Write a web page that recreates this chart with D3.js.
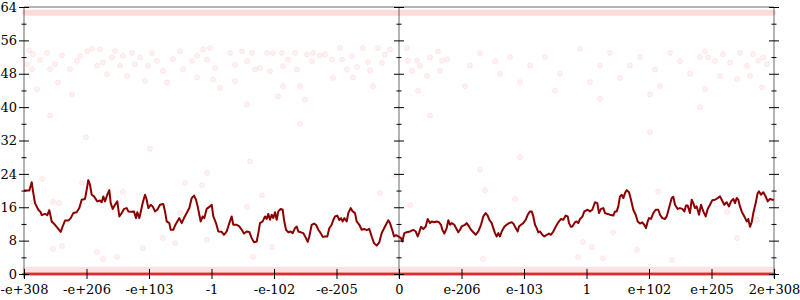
<!DOCTYPE html>
<html>
<head>
<meta charset="utf-8">
<script src="https://cdn.jsdelivr.net/npm/d3@7"></script>
<style>
  html, body { margin: 0; padding: 0; background: #fff; }
  svg text { font-family: "DejaVu Serif", serif; font-size: 13px; fill: #000; }
</style>
</head>
<body>
<svg id="chart" width="800" height="300"></svg>
<script>
// x runs over the sorted float64 bit patterns, tick index * 10
const xTickValues = [0, 10, 20, 30, 40, 50, 60, 70, 80, 90, 100, 110, 120];
const xTickLabels = ['-e+308', '-e+206', '-e+103', '-1', '-e-102', '-e-205', '0',
                     'e-206', 'e-103', '1', 'e+102', 'e+205', '2e+308'];
const yMajorTicks = [0, 8, 16, 24, 32, 40, 48, 56, 64];
const yMinorTicks = [4, 12, 20, 28, 36, 44, 52, 60];
const frameX = [0, 60, 120];

// dense rows of samples (level, relative count)
const bandLevels = [62.6, 1, 0];
const bandCounts = [160, 120, 800];

// cloud of samples around 44..54
const cloudPoints = [
  [0.8, 53.6], [1.44, 52.7], [0.48, 50.3], [1.28, 49.1], [2.56, 51.3], [3.68, 53], [4.16, 49.1],
  [4.96, 50.3], [5.44, 45.9], [6.08, 52.4], [7.36, 49.1], [8.48, 51.1], [8.96, 52.3], [10.08, 53.4],
  [10.88, 54], [12.16, 53.8], [11.68, 49.9], [12.64, 50.7], [13.28, 47.9], [14.08, 51.9], [14.56, 53.4],
  [15.36, 49.9], [15.84, 52.3], [16.48, 47.5], [17.28, 53], [17.76, 50.3], [18.56, 51.9], [19.36, 46.3],
  [19.84, 49.9], [20.48, 53], [21.28, 51.1], [22.24, 48.7], [22.88, 45.9], [23.84, 51.5], [24.96, 53.4],
  [25.44, 49.1], [26.88, 51.1], [27.68, 52.3], [27.68, 47.1], [7.68, 43.1], [2.08, 44.3],
  [28.64, 53.8], [29.76, 54.2], [29.28, 51.4], [30.56, 49.4], [30.24, 46.6], [31.36, 44.6], [32.96, 53],
  [33.76, 50.1], [33.76, 46.2], [34.88, 53.4], [35.68, 51], [36.48, 53], [36.96, 49], [37.76, 49.4],
  [38.88, 53], [39.36, 48.6], [39.84, 53], [40.64, 42.6], [41.28, 53], [41.44, 49.8], [41.44, 45],
  [42.24, 51.4], [43.36, 53], [43.68, 49], [44.16, 45], [45.28, 52.6], [46.08, 51], [46.24, 53],
  [47.36, 52.4], [48.16, 52.6], [49.28, 51.4], [49.44, 47], [50.56, 54.2], [50.88, 51.4], [51.68, 49],
  [52.48, 52.2], [53.28, 49.6], [54.24, 54.2], [55.04, 50.8], [55.36, 48.8], [55.84, 45], [56.64, 54.2],
  [57.28, 50.6], [57.76, 52.6], [35.68, 40.6], [44.96, 41.8], [52.64, 47.1],
  [58.56, 53.8], [61.28, 54.2], [61.44, 51.1], [62.88, 51.1], [63.36, 49.9], [64.96, 51.9], [66.24, 53.4],
  [66.88, 51.1], [67.68, 51.5], [62.08, 48.7], [64.48, 47.5], [66.56, 48.7], [63.04, 43.9],
  [71.36, 50], [76.16, 48], [79.36, 46], [83.36, 52], [85.76, 48], [88.96, 54], [92.16, 50], [95.36, 47],
  [98.56, 52], [100.96, 49], [103.36, 53], [106.56, 48], [72.96, 53], [77.76, 52], [80.96, 50],
  [90.56, 46], [93.76, 53], [96.96, 50], [101.76, 45], [104.96, 51], [108.16, 52], [70.56, 45],
  [84.96, 44], [100.16, 43], [75.36, 51],
  [108.96, 53.4], [109.44, 51.9], [110.56, 51.1], [111.84, 52.7], [112.96, 50.7], [114.56, 53],
  [115.68, 49.9], [116.64, 52.7], [117.44, 51.1], [118.24, 51.9], [118.88, 50.3], [111.36, 47.5],
  [114.08, 46.7], [116.16, 47.5], [118.08, 44.7], [108.96, 44.3]
];

// scattered samples elsewhere
const strayPoints = [
  [2.88, 22.8], [1.44, 17.3], [4.64, 17.3], [5.6, 17], [4.64, 6], [6.08, 6.7], [11.68, 5.3],
  [14.88, 4.1], [12.64, 3.6], [9.28, 21.8], [15.84, 19.7], [22.24, 8.6], [24.16, 7.4], [24.96, 14.6],
  [19.04, 6.2], [25.76, 21.8], [29.28, 24.2], [38.08, 18.9], [28.48, 21.3], [35.68, 16.1], [29.28, 8.2],
  [39.68, 6.5], [36.64, 4.1], [56.96, 19.4], [59.36, 23.7], [61.76, 16.5], [72.96, 25], [78.56, 18],
  [73.76, 20.1], [89.44, 7.7], [90.88, 6.5], [73.44, 3.6], [88.64, 4.1], [101.44, 19.7], [94.24, 10],
  [98.08, 5.8], [103.68, 3.4], [114.08, 8.6], [117.28, 13], [92.64, 3.8], [112.48, 14.9],
  [9.92, 32.8], [20.16, 30], [44.16, 36], [64.96, 38], [79.36, 28], [100.16, 34], [108.16, 40],
  [36.16, 27], [4.16, 38], [92.16, 42]
];

// running mean
const meanLine = [
  [0, 20], [0.85, 20], [1.23, 22], [1.49, 19.4], [1.76, 17], [2.29, 15.4], [2.67, 14.8], [2.83, 14.1],
  [3.36, 14.4], [3.73, 14.1], [4.05, 15.3], [4.27, 13.8], [4.43, 12.6], [4.96, 11.8], [5.49, 10.8],
  [5.87, 10.1], [6.29, 11.8], [6.56, 12.8], [7.09, 12.8], [7.47, 13.4], [7.89, 14.6], [8.43, 14.8],
  [8.85, 15.8], [9.23, 17.8], [9.76, 18], [10.03, 20.2], [10.29, 22.5], [10.56, 21.4], [10.83, 19],
  [11.2, 18.6], [11.73, 17.4], [12.16, 17.6], [12.43, 17.2], [12.69, 18.6], [12.96, 17.4], [13.33, 19],
  [13.65, 20.1], [13.87, 17], [14.19, 15.6], [14.56, 16.6], [14.93, 17.4], [15.25, 13.8], [15.63, 14.6],
  [16.0, 15.6], [16.43, 15.8], [16.69, 15], [17.23, 14.9], [17.6, 15], [17.92, 13.4], [18.13, 14.8],
  [18.45, 13.4], [18.67, 14.8], [18.99, 17], [19.36, 19], [19.63, 17.8], [19.89, 15.8], [20.27, 16.6],
  [20.59, 16.2], [20.96, 15], [21.33, 15.4], [21.76, 16.6], [22.29, 16.8], [22.56, 15], [22.83, 12.6],
  [23.25, 12.2], [23.47, 10.6], [23.89, 10.6], [24.16, 11.6], [24.53, 12.6], [24.85, 13.4], [25.23, 12.2],
  [25.6, 13.4], [26.03, 14.6], [26.45, 15.8], [26.83, 18.2], [27.2, 18.8], [27.52, 17.8], [27.79, 16.2],
  [28.05, 14.2], [28.27, 12.6], [28.59, 13.8], [28.85, 13.4], [29.23, 15.6], [29.76, 16.2],
  [30.03, 16.6], [30.29, 13.8], [30.72, 12.2], [31.09, 10.2], [31.63, 10.1], [32.0, 9.4], [32.43, 10.2],
  [32.85, 12.2], [33.23, 13.8], [33.49, 11.8], [34.03, 11.8], [34.45, 11.4], [34.83, 10.6], [35.2, 9.7],
  [35.63, 10.2], [36.05, 10.1], [36.43, 8.6], [36.8, 7.6], [37.23, 7.8], [37.49, 9.8], [37.76, 12.2],
  [38.19, 12.6], [38.56, 13.8], [38.83, 13.2], [39.09, 14.4], [39.36, 13], [39.63, 14.2], [39.89, 13.4],
  [40.16, 14.8], [40.43, 13], [40.69, 15], [41.07, 15.6], [41.39, 15.4], [41.6, 13], [41.92, 10.6],
  [42.29, 10], [42.67, 10.2], [42.99, 9.8], [43.36, 11], [43.63, 11.4], [43.89, 10.2], [44.27, 10],
  [44.69, 9.8], [45.12, 8.6], [45.39, 7.7], [45.65, 9], [46.03, 11.8], [46.4, 12.1], [46.72, 11.8],
  [47.09, 10.6], [47.47, 9.8], [47.79, 8.9], [48.16, 9], [48.53, 9], [48.85, 11], [49.23, 11.8],
  [49.49, 13], [49.76, 13.8], [50.13, 14], [50.45, 12.9], [50.72, 13.4], [50.99, 12.6], [51.25, 13.4],
  [51.63, 12.6], [51.89, 14.6], [52.27, 15.8], [52.59, 15], [52.96, 14.6], [53.23, 12.6], [53.65, 11.8],
  [54.03, 10.6], [54.4, 10.8], [54.83, 10.5], [55.25, 10.8], [55.63, 9], [56.0, 7.4], [56.43, 6.8],
  [56.85, 7.6], [57.23, 9.8], [57.76, 11.4], [58.29, 12.9], [58.56, 12.2], [58.99, 10.2], [59.2, 9],
  [59.52, 9.3], [59.89, 9],
  [60.32, 8.6], [60.53, 7.8], [60.85, 9.8], [61.23, 10], [61.76, 10.2], [62.29, 10.6], [62.67, 10.2],
  [62.99, 9], [63.2, 9.8], [63.52, 11.3], [63.89, 10.8], [64.27, 11.4], [64.59, 13.2], [64.96, 12.2],
  [65.23, 12.6], [65.65, 12.4], [66.03, 12.6], [66.4, 12.4], [66.72, 11.8], [66.93, 10.6], [67.25, 9.7],
  [67.63, 11], [67.89, 12.9], [68.16, 11.8], [68.43, 12.2], [68.85, 11.8], [69.12, 11], [69.49, 10],
  [69.76, 10.6], [70.03, 11.4], [70.56, 11.8], [70.83, 12.2], [71.2, 11.4], [71.52, 10.6], [71.89, 10],
  [72.27, 9.4], [72.69, 10.2], [73.12, 11.8], [73.49, 13.8], [73.87, 14.6], [74.19, 14], [74.45, 13],
  [74.83, 12.2], [75.09, 11], [75.36, 9.8], [75.63, 9], [75.89, 9.8], [76.16, 9], [76.43, 10.2],
  [76.85, 11.3], [77.23, 11.8], [77.6, 12.2], [78.03, 12.4], [78.29, 12.1], [78.67, 11], [78.99, 10.2],
  [79.2, 11.4], [79.52, 11.8], [79.89, 12.2], [80.27, 13], [80.59, 14.2], [80.96, 15], [81.23, 15],
  [81.49, 13.8], [81.76, 11.8], [82.03, 11], [82.29, 10], [82.56, 10.2], [82.93, 9.4], [83.25, 9],
  [83.63, 9.4], [84.0, 9.7], [84.32, 9.4], [84.69, 10.2], [85.07, 11.3], [85.49, 12.4], [85.92, 13.2],
  [86.29, 13], [86.67, 14], [86.99, 13.8], [87.2, 12.2], [87.52, 11.3], [87.73, 11.4], [88.16, 12.4],
  [88.43, 12.6], [88.69, 12.2], [88.96, 13.2], [89.33, 13.7], [89.65, 15],
  [90.19, 15.4], [90.56, 15], [90.93, 15.4], [91.36, 17.2], [91.73, 17], [92.0, 14.6], [92.32, 15.6],
  [92.69, 15.8], [92.96, 14.6], [93.39, 14.4], [93.76, 14.2], [94.29, 14], [94.56, 15], [94.83, 15],
  [95.09, 16.2], [95.36, 18.6], [95.63, 19], [95.89, 18.2], [96.16, 19.4], [96.43, 20.1], [96.8, 19.6],
  [97.12, 17.8], [97.49, 15.4], [97.87, 14.2], [98.19, 12.6], [98.56, 12.1], [98.93, 12.4], [99.25, 11.8],
  [99.52, 11], [99.79, 12.6], [100.0, 13.4], [100.32, 13.2], [100.69, 14.6], [101.07, 15.4], [101.49, 15.4],
  [101.76, 14.2], [102.13, 13.4], [102.56, 13.2], [102.83, 13.8], [103.2, 15.8], [103.63, 18.2],
  [103.89, 18.5], [104.16, 16.6], [104.59, 15.6], [104.96, 15.8], [105.33, 15.6], [105.65, 15],
  [105.92, 16.4], [106.19, 16.4], [106.56, 14.6], [106.83, 17.8], [107.09, 17], [107.36, 15.8],
  [107.63, 16.2], [108.0, 14.2], [108.32, 16.6], [108.69, 15], [109.07, 13.8], [109.39, 15.6],
  [109.76, 16.6], [110.13, 17.7], [110.56, 17.8], [110.99, 18.2], [111.36, 18.6], [111.63, 17.8],
  [112.05, 16.6], [112.43, 17.2], [112.8, 16.2], [113.12, 17.4], [113.49, 18], [113.76, 17],
  [114.03, 18.2], [114.29, 17.8], [114.56, 16.2], [114.83, 15], [115.25, 13.8], [115.63, 12.6],
  [115.89, 13.2], [116.16, 11.3], [116.43, 12.4], [116.69, 14.6], [117.07, 17], [117.39, 19.4],
  [117.6, 19.8], [117.92, 19], [118.29, 19.6], [118.67, 18.6], [118.99, 17.4], [119.36, 18],
  [119.73, 17.8], [120.0, 17.8]
];

const width = 800, height = 300;
const margin = {top: 7, right: 26, bottom: 26, left: 24};

const svg = d3.select('#chart');

const x = d3.scaleLinear()
    .domain([0, 120])
    .range([margin.left, width - margin.right]);

const y = d3.scaleLinear()
    .domain([0, 64])
    .range([height - margin.bottom, margin.top]);

// grey frame: three verticals, top and bottom
const frame = svg.append('g')
    .attr('stroke', '#b4b4b4')
    .attr('stroke-width', 2);

frame.selectAll('line.v')
    .data(frameX)
    .enter()
    .append('line')
    .attr('class', 'v')
    .attr('x1', d => x(d))
    .attr('x2', d => x(d))
    .attr('y1', y(64))
    .attr('y2', y(0) + 4);

frame.selectAll('line.h')
    .data([64, 0])
    .enter()
    .append('line')
    .attr('class', 'h')
    .attr('x1', x(0))
    .attr('x2', x(120))
    .attr('y1', d => y(d))
    .attr('y2', d => y(d));

// dense rows drawn as soft strips
const bandOpacity = d3.scaleLinear()
    .domain([0, 800])
    .range([0, 0.72]);

svg.append('g')
    .selectAll('rect')
    .data(bandLevels.map((level, i) => ({level, count: bandCounts[i]})))
    .enter()
    .append('rect')
    .attr('x', x(0) - 2)
    .attr('width', x(120) - x(0) + 4)
    .attr('y', d => y(d.level) - (d.level === 0 ? 1.5 : 3))
    .attr('height', d => d.level === 0 ? 3 : 6)
    .attr('rx', 3)
    .attr('fill', '#e00000')
    .attr('fill-opacity', d => bandOpacity(d.count));

// individual samples
svg.append('g')
    .selectAll('circle')
    .data(cloudPoints.concat(strayPoints))
    .enter()
    .append('circle')
    .attr('cx', d => x(d[0]))
    .attr('cy', d => y(d[1]))
    .attr('r', 2.5)
    .attr('fill', 'rgba(255,0,0,0.05)')
    .attr('stroke', 'rgba(255,0,0,0.07)')
    .attr('stroke-width', 1);

// running mean line
const line = d3.line()
    .x(d => x(d[0]))
    .y(d => y(d[1]));

svg.append('path')
    .datum(meanLine)
    .attr('fill', 'none')
    .attr('stroke', '#8b0000')
    .attr('stroke-width', 2)
    .attr('stroke-linejoin', 'round')
    .attr('d', line);

// y ticks on each vertical, crossing the line
frameX.forEach((v, i) => {
    const g = svg.append('g').attr('transform', `translate(${x(v)},0)`);
    g.append('g')
        .call(d3.axisLeft(y).tickValues(yMajorTicks).tickSize(5).tickPadding(2)
            .tickFormat(i === 0 ? d3.format('d') : ''))
        .call(a => a.select('.domain').remove());
    g.append('g')
        .call(d3.axisRight(y).tickValues(yMajorTicks).tickSize(5).tickFormat(''))
        .call(a => a.select('.domain').remove());
    g.append('g')
        .call(d3.axisLeft(y).tickValues(yMinorTicks).tickSize(2.5).tickFormat(''))
        .call(a => a.select('.domain').remove());
    g.append('g')
        .call(d3.axisRight(y).tickValues(yMinorTicks).tickSize(2.5).tickFormat(''))
        .call(a => a.select('.domain').remove());
});

// x ticks
svg.append('g')
    .attr('transform', `translate(0,${y(0)})`)
    .call(d3.axisBottom(x).tickValues(xTickValues).tickSize(5).tickPadding(6)
        .tickFormat((d, i) => xTickLabels[i]))
    .call(a => a.select('.domain').remove());

svg.append('g')
    .attr('transform', `translate(0,${y(0)})`)
    .call(d3.axisTop(x).tickValues(xTickValues).tickSize(5).tickFormat(''))
    .call(a => a.select('.domain').remove());
</script>
</body>
</html>
